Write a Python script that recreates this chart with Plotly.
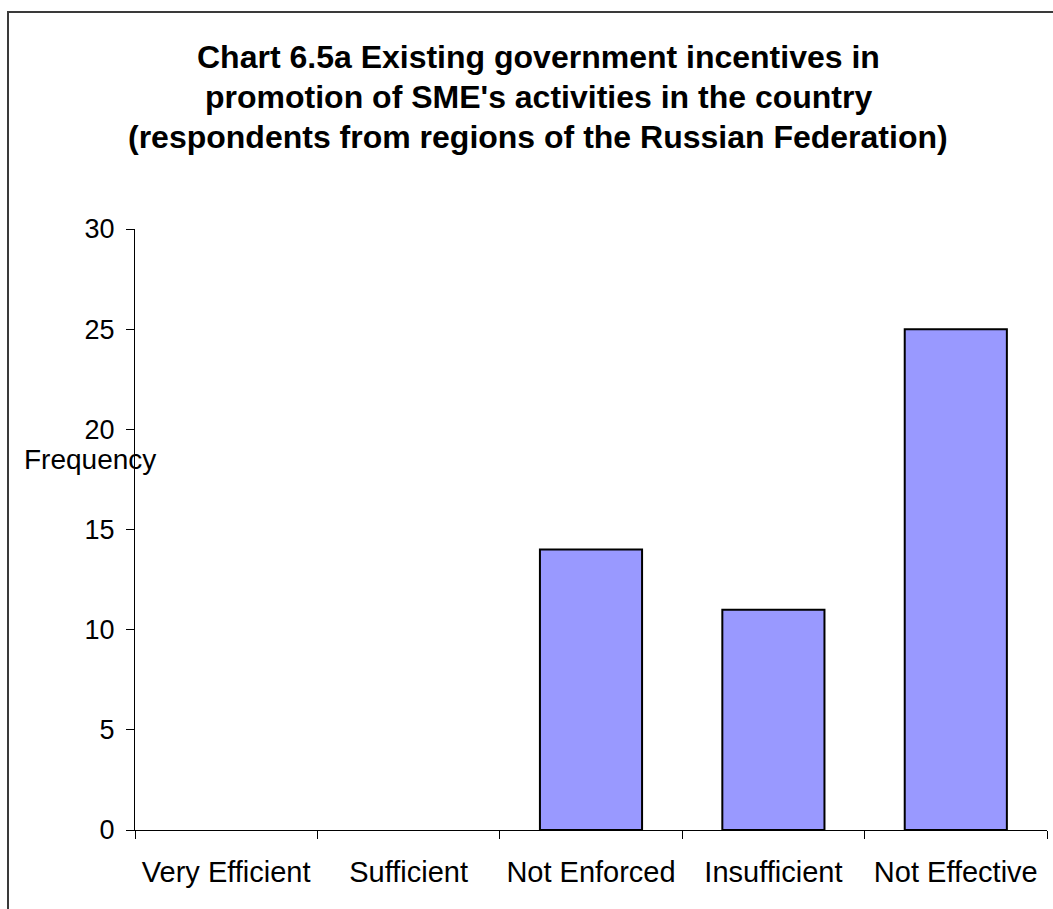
import plotly.graph_objects as go

categories = ["Very Efficient", "Sufficient", "Not Enforced", "Insufficient", "Not Effective"]
frequency = [0, 0, 14, 11, 25]
title_lines = [
    "Chart 6.5a Existing government incentives in",
    "promotion of SME's activities in the country",
    "(respondents from regions of the Russian Federation)",
]
y_ticks = [0, 5, 10, 15, 20, 25, 30]

W, H = 1053, 909
L, R, T, B = 135, 6, 229, 79
pw, ph = W - L - R, H - T - B

def px_x(x):
    return (x - L) / pw

def px_y(y):
    return (H - B - y) / ph

FONT = "Arial, 'Liberation Sans', sans-serif"

fig = go.Figure()
fig.add_trace(go.Bar(
    x=categories, y=frequency,
    marker=dict(color="#9999FF",
                line=dict(color="black", width=[2 if v else 0 for v in frequency])),
    width=0.56,
))

for line, yp in zip(title_lines, [57, 97, 137]):
    fig.add_annotation(
        text="<b>%s</b>" % line, xref="paper", yref="paper",
        x=px_x(538), y=px_y(yp), xanchor="center", yanchor="middle",
        showarrow=False, font=dict(family=FONT, size=32, color="black"),
    )

fig.add_annotation(
    text="Frequency", xref="paper", yref="paper",
    x=px_x(90), y=px_y(459), xanchor="center", yanchor="middle",
    showarrow=False, font=dict(family=FONT, size=28, color="black"),
)

fig.add_shape(
    type="rect", xref="paper", yref="paper",
    x0=px_x(8), x1=px_x(1070), y0=px_y(930), y1=px_y(12),
    line=dict(color="#3a3a3a", width=2), fillcolor="rgba(0,0,0,0)",
)

fig.update_layout(
    width=W, height=H,
    margin=dict(l=L, r=R, t=T, b=B, pad=0),
    paper_bgcolor="white", plot_bgcolor="white",
    showlegend=False,
    font=dict(family=FONT, size=27, color="black"),
)
fig.update_xaxes(
    showline=True, linecolor="black", linewidth=1,
    ticks="outside", tickson="boundaries", ticklen=8, tickcolor="black",
    showgrid=False, zeroline=False,
    tickfont=dict(family=FONT, size=29, color="black"),
    ticklabelstandoff=16,
)
fig.update_yaxes(
    range=[0, 30], tickvals=y_ticks,
    showline=True, linecolor="black", linewidth=1,
    ticks="outside", ticklen=8, tickcolor="black",
    showgrid=False, zeroline=False,
    tickfont=dict(family=FONT, size=27, color="black"),
    ticklabelstandoff=6,
)

fig.write_html("out.html")
